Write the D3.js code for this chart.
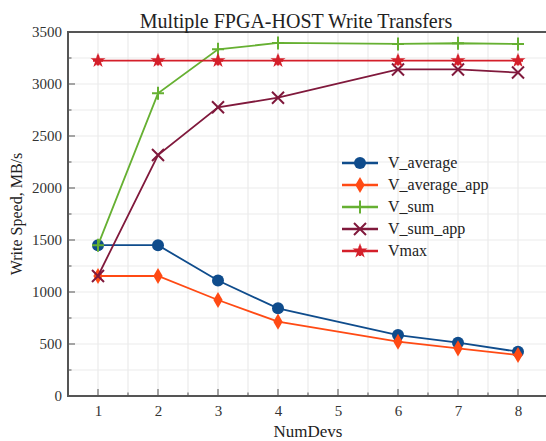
<!DOCTYPE html>
<html><head><meta charset="utf-8">
<script src="https://cdn.jsdelivr.net/npm/d3@7"></script>
<style>body{margin:0;background:#fff}svg{display:block;font-family:"Liberation Serif","DejaVu Serif",serif}</style>
</head><body><svg id="c" width="546" height="441"></svg>
<script>
const numDevs = [1, 2, 3, 4, 6, 7, 8];
const vAverage = [1450, 1450, 1110, 843, 586, 513, 426];
const vAverageApp = [1154, 1154, 923, 715, 522, 458, 394];
const vSum = [1450, 2910, 3333, 3395, 3385, 3392, 3385];
const vSumApp = [1154, 2317, 2776, 2868, 3140, 3140, 3110];
const vMax = [3225, 3225, 3225, 3225, 3225, 3225, 3225];
const xTicks = [1, 2, 3, 4, 5, 6, 7, 8];
const yTicks = [0, 500, 1000, 1500, 2000, 2500, 3000, 3500];

const series = [
  {name: "V_average", values: vAverage, color: "#0f4c8c", marker: "circle"},
  {name: "V_average_app", values: vAverageApp, color: "#ff4a14", marker: "diamond"},
  {name: "V_sum", values: vSum, color: "#66b032", marker: "plus"},
  {name: "V_sum_app", values: vSumApp, color: "#80193c", marker: "cross"},
  {name: "Vmax", values: vMax, color: "#d41f2a", marker: "star"}
];
const drawOrder = [0, 1, 3, 2, 4];

const svg = d3.select("#c");
const L = 68, R = 548, T = 32, B = 396;
const x = d3.scaleLinear().domain([0.5, 8.5]).range([L, R]);
const y = d3.scaleLinear().domain([0, 3500]).range([B, T]);

// grid
const gx = d3.range(0.5, 8.51, 0.5);
const gy = d3.range(0, 3501, 250);
svg.append("g").selectAll("line").data(gx).join("line")
  .attr("x1", d => x(d)).attr("x2", d => x(d)).attr("y1", T).attr("y2", B)
  .attr("stroke", "#ebebeb").attr("stroke-width", 1.2);
svg.append("g").selectAll("line").data(gy).join("line")
  .attr("y1", d => y(d)).attr("y2", d => y(d)).attr("x1", L).attr("x2", R)
  .attr("stroke", "#ebebeb").attr("stroke-width", 1.2);

// axes
const xAxis = d3.axisBottom(x).tickValues(xTicks).tickSize(0).tickPadding(9).tickFormat(d3.format("d"));
const gxa = svg.append("g").attr("transform", `translate(0,${B})`).call(xAxis);
gxa.select(".domain").remove();
gxa.selectAll("text").attr("font-size", 15).attr("fill", "#333").attr("font-family", "Liberation Serif");
const yAxis = d3.axisLeft(y).tickValues(yTicks).tickSize(0).tickPadding(6).tickFormat(d3.format("d"));
const gya = svg.append("g").attr("transform", `translate(${L},0)`).call(yAxis);
gya.select(".domain").remove();
gya.selectAll("text").attr("font-size", 15).attr("fill", "#333").attr("font-family", "Liberation Serif");

// inner ticks
const tg = svg.append("g").attr("stroke", "#777").attr("stroke-width", 1.3);
d3.range(1, 8.01, 1).forEach(v => tg.append("line").attr("x1", x(v)).attr("x2", x(v)).attr("y1", B).attr("y2", B - 7));
d3.range(1.5, 8.01, 1).forEach(v => tg.append("line").attr("x1", x(v)).attr("x2", x(v)).attr("y1", B).attr("y2", B - 3.5));
d3.range(500, 3001, 500).forEach(v => tg.append("line").attr("y1", y(v)).attr("y2", y(v)).attr("x1", L).attr("x2", L + 7));
d3.range(250, 3500, 500).forEach(v => tg.append("line").attr("y1", y(v)).attr("y2", y(v)).attr("x1", L).attr("x2", L + 3.5));

// frame
svg.append("path").attr("d", `M${R},${T}H${L}V${B}H${R}`).attr("fill", "none").attr("stroke", "#555").attr("stroke-width", 2);

function marker(g, type, cx, cy, color) {
  if (type === "circle") {
    g.append("circle").attr("cx", cx).attr("cy", cy).attr("r", 6).attr("fill", color);
  } else if (type === "diamond") {
    g.append("path").attr("d", d3.symbol(d3.symbolDiamond, 75)()).attr("transform", `translate(${cx},${cy})`).attr("fill", color);
  } else if (type === "plus") {
    g.append("path").attr("d", `M${cx-6},${cy}H${cx+6}M${cx},${cy-6.5}V${cy+6.5}`).attr("stroke", color).attr("stroke-width", 2).attr("fill", "none");
  } else if (type === "cross") {
    g.append("path").attr("d", `M${cx-6},${cy-6}L${cx+6},${cy+6}M${cx-6},${cy+6}L${cx+6},${cy-6}`).attr("stroke", color).attr("stroke-width", 2).attr("fill", "none");
  } else if (type === "star") {
    g.append("path").attr("d", d3.symbol(d3.symbolStar, 70)()).attr("transform", `translate(${cx},${cy})`).attr("fill", color);
    g.append("path").attr("d", `M${cx-5},${cy}H${cx+5}M${cx},${cy-5}V${cy+5}`).attr("stroke", color).attr("stroke-width", 2.5);
  }
}

const line = d3.line().x((d, i) => x(numDevs[i])).y(d => y(d));
drawOrder.forEach(k => {
  const s = series[k];
  const g = svg.append("g");
  g.append("path").datum(s.values).attr("d", line).attr("fill", "none").attr("stroke", s.color).attr("stroke-width", 1.8);
  s.values.forEach((v, i) => marker(g, s.marker, x(numDevs[i]), y(v), s.color));
});

// legend
const lg = svg.append("g");
series.forEach((s, i) => {
  const ly = 163 + i * 22;
  lg.append("line").attr("x1", 342).attr("x2", 378).attr("y1", ly).attr("y2", ly).attr("stroke", s.color).attr("stroke-width", 2.5);
  marker(lg, s.marker, 360, ly, s.color);
  lg.append("text").attr("x", 388).attr("y", ly + 5).attr("font-size", 16).attr("fill", "#222").text(s.name);
});

// titles
svg.append("text").attr("x", 296).attr("y", 28).attr("text-anchor", "middle").attr("font-size", 20).attr("fill", "#222").text("Multiple FPGA-HOST Write Transfers");
svg.append("text").attr("x", 308).attr("y", 437).attr("text-anchor", "middle").attr("font-size", 17).attr("fill", "#222").text("NumDevs");
svg.append("text").attr("transform", "translate(22,214) rotate(-90)").attr("text-anchor", "middle").attr("font-size", 16).attr("fill", "#222").text("Write Speed, MB/s");
</script></body></html>
